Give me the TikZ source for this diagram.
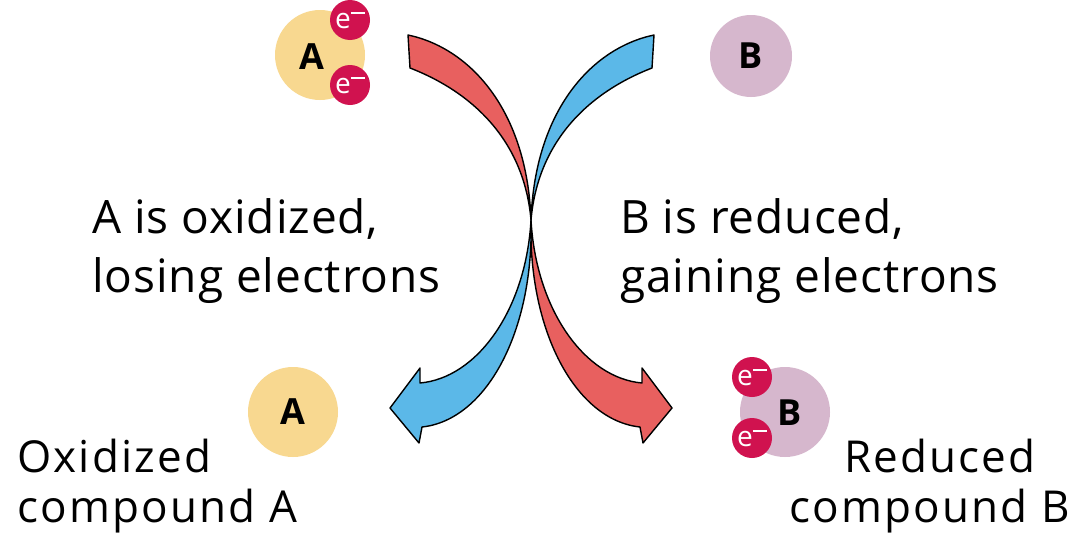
\documentclass[tikz,border=0pt]{standalone}
\usepackage{fontspec}
\setmainfont{Open Sans}
\definecolor{redarrow}{HTML}{E8605F}
\definecolor{bluearrow}{HTML}{5BB8E8}
\definecolor{yellowA}{HTML}{F8D890}
\definecolor{mauveB}{HTML}{D6B7CD}
\definecolor{electron}{HTML}{D0124F}
\tikzset{
  compound/.style={circle, inner sep=0pt, minimum size=#1, font=\fontsize{36}{36}\selectfont\bfseries},
  letter/.style={font=\fontsize{36}{36}\selectfont\bfseries},
  electronball/.style={circle, fill=electron, inner sep=0pt, minimum size=40pt, text=white,
    font=\fontsize{28}{28}\selectfont},
  label/.style={anchor=base west, inner sep=0pt, font=\fontsize{46}{59}\selectfont\addfontfeature{LetterSpace=2}},
  botlabel/.style={anchor=base west, inner sep=0pt, font=\fontsize{44}{50}\selectfont\addfontfeature{LetterSpace=5}},
  bandarrow/.style={draw=black, line width=1.4pt, line join=round}
}
\newcommand{\elec}{e\raisebox{0.5em}{\rule{0.5em}{0.09em}}}
\begin{document}
\begin{tikzpicture}[x=1pt,y=-1pt]
\useasboundingbox (0,0) rectangle (1070,538);
\fill[white] (0,0) rectangle (1070,538);
% compounds
\node[compound=90pt, fill=yellowA] (A1) at (320,55) {};
\node[letter] (A1t) at (312,57) {A};
\node[electronball] (e1) at (350,20) {\elec};
\node[electronball] (e2) at (350,85) {\elec};
\node[compound=82pt, fill=mauveB] (B1) at (751,56) {B};
\node[compound=90pt, fill=yellowA] (A2) at (293,412) {A};
\node[compound=90pt, fill=mauveB] (B2) at (785,412) {};
\node[letter] (B2t) at (790,413) {B};
\node[electronball] (e3) at (752,377) {\elec};
\node[electronball] (e4) at (752,438) {\elec};
% arrows
\path[bandarrow, fill=redarrow]
 (408,35) .. controls (470,48) and (527,110) .. (531,220)
 .. controls (536,310) and (585,378) .. (642,383)
 -- (642,368) -- (672,408) -- (643,443) -- (640,427)
 .. controls (575,420) and (528,330) .. (531,220)
 .. controls (524,140) and (472,92) .. (410,68) -- cycle;
\begin{scope}[shift={(1062,0)}, xscale=-1]
\path[bandarrow, fill=bluearrow]
 (408,35) .. controls (470,48) and (527,110) .. (531,220)
 .. controls (536,310) and (585,378) .. (642,383)
 -- (642,368) -- (672,408) -- (643,443) -- (640,427)
 .. controls (575,420) and (528,330) .. (531,220)
 .. controls (524,140) and (472,92) .. (410,68) -- cycle;
\end{scope}
% labels
\node[label] (ox) at (92,233) {\begin{tabular}[t]{@{}l@{}}A is oxidized,\\losing electrons\end{tabular}};
\node[label] (red) at (620,233) {\begin{tabular}[t]{@{}l@{}}B is reduced,\\gaining electrons\end{tabular}};
\node[botlabel] (oxA) at (17,472) {\begin{tabular}[t]{@{}l@{}}Oxidized\\compound A\end{tabular}};
\node[botlabel] (redB) at (789,472) {\begin{tabular}[t]{@{}l@{}}\hspace*{55pt}Reduced\\compound B\end{tabular}};
\end{tikzpicture}
\end{document}
